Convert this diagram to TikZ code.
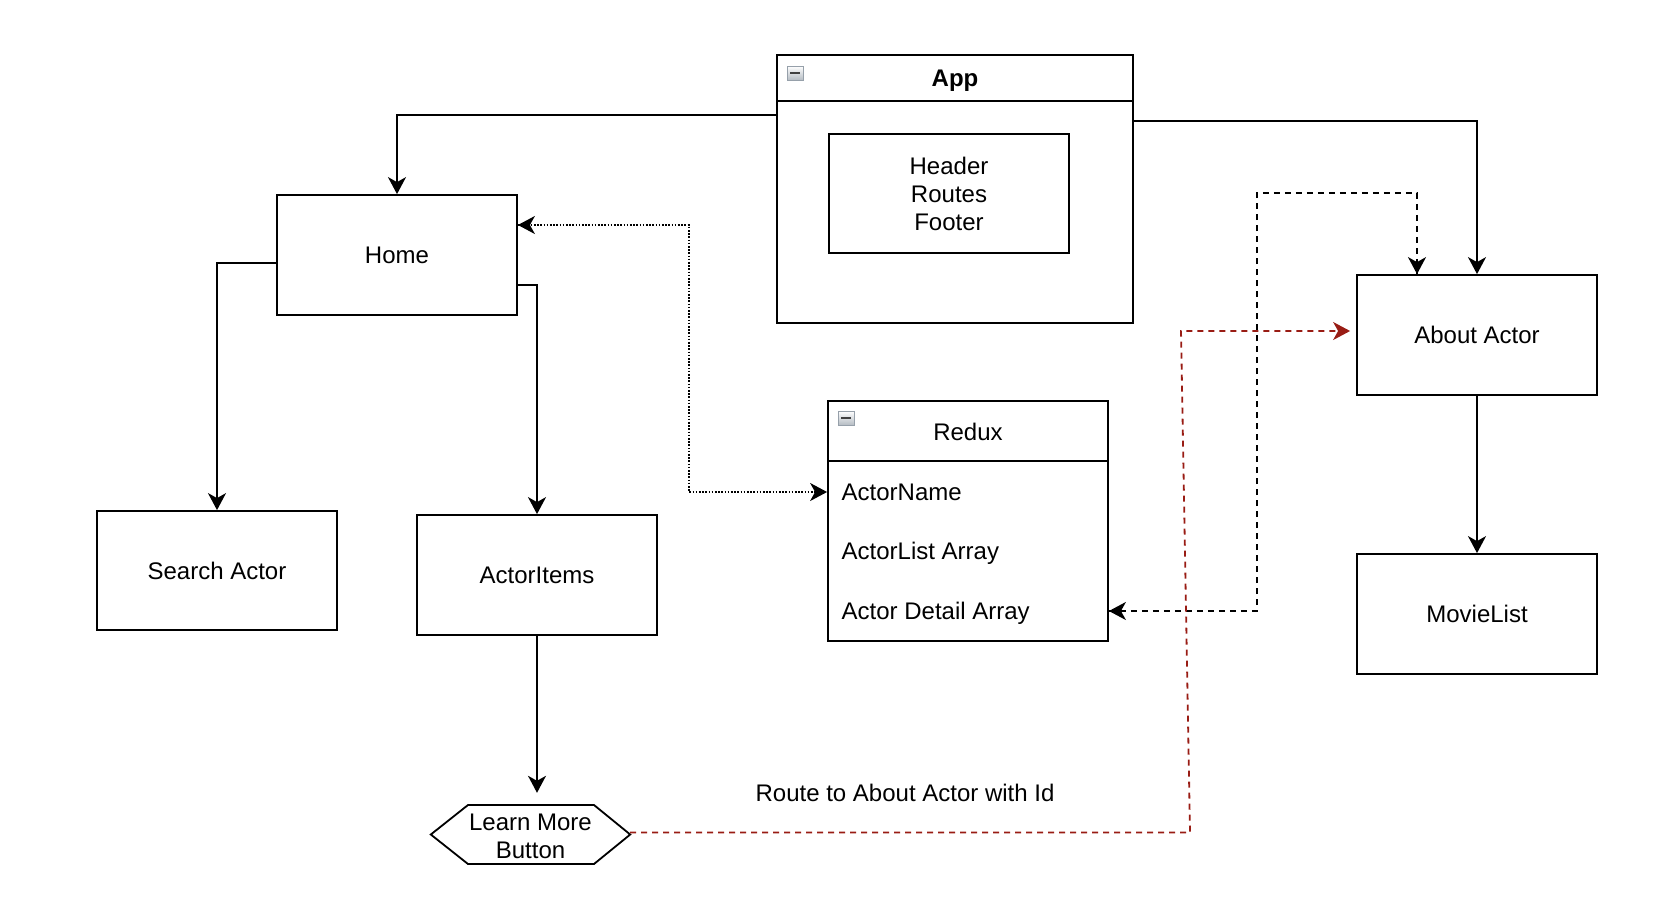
\documentclass[tikz,border=0pt]{standalone}
\usepackage{fontspec}
\setmainfont{Liberation Sans}
\usetikzlibrary{arrows.meta}
\definecolor{linkred}{RGB}{153,28,20}
\definecolor{icongray}{RGB}{150,160,170}
\tikzset{
  box/.style={draw, line width=1.8pt, minimum width=240pt, minimum height=120pt, inner sep=0pt,
    font=\fontsize{24}{28}\selectfont, align=center},
  txt/.style={inner sep=0pt, font=\fontsize{24}{28}\selectfont, align=center},
  tip/.style={-{Stealth[length=17pt,width=18pt,inset=5pt]}},
  conn/.style={line width=1.8pt, tip},
  dashconn/.style={line width=1.8pt, dash pattern=on 6pt off 5pt},
  dotconn/.style={line width=1.6pt, dash pattern=on 1.6pt off 1.6pt},
  ico/.style={draw=icongray, line width=0.8pt, top color=white, bottom color=icongray!70, minimum width=16pt, minimum height=14pt, inner sep=0pt}
}
\begin{document}
\begin{tikzpicture}[x=1pt, y=-1pt]
\useasboundingbox (0,0) rectangle (1656,916);

% App container
\node[box, minimum width=356pt, minimum height=268pt] (app) at (955,189) {};
\draw[line width=1.8pt] (app.west |- 0,101) -- (app.east |- 0,101);
\node[txt, font=\fontsize{24}{28}\selectfont\bfseries] (apptitle) at (955,81) {App};
\node[ico] (appicon) at (795,73) {};
\draw[line width=2pt, black!75] ([xshift=-5pt]appicon.center) -- ([xshift=5pt]appicon.center);
\node[box, minimum width=240pt, minimum height=119pt] (inner) at (949,193.5) {Header\\Routes\\Footer};

% Redux container
\node[box, minimum width=280pt, minimum height=240pt] (redux) at (968,521) {};
\draw[line width=1.8pt] (redux.west |- 0,461) -- (redux.east |- 0,461);
\node[txt] (reduxtitle) at (968,432) {Redux};
\node[ico] (reduxicon) at (846,418) {};
\draw[line width=2pt, black!75] ([xshift=-5pt]reduxicon.center) -- ([xshift=5pt]reduxicon.center);
\node[txt, anchor=west] (rname) at (841.5,492) {ActorName};
\node[txt, anchor=west] (rlist) at (841.5,553.5) {ActorList Array};
\node[txt, anchor=west] (rdetail) at (841.5,613.5) {Actor Detail Array};

% Boxes
\node[box] (home) at (397,255) {Home};
\node[box, minimum height=119pt] (search) at (217,570.5) {Search Actor};
\node[box] (items) at (537,575) {ActorItems};
\node[box] (about) at (1477,335) {About Actor};
\node[box] (movie) at (1477,614) {MovieList};

% Learn More hexagon
\node[txt, minimum width=199pt, minimum height=59pt] (learn) at (530.5,834.5) {};
\node[txt] (learntext) at (530.5,836.5) {Learn More\\Button};
\draw[line width=1.8pt] (learn.west) -- (468,805) -- (594,805) -- (learn.east) -- (594,864) -- (468,864) -- cycle;

% Label
\node[txt] (routelabel) at (905,793) {Route to About Actor with Id};

% Solid connectors
\draw[conn] (app.west |- 0,115) -| (home.north);
\draw[conn] (app.east |- 0,121) -| (about.north);
\draw[conn] (home.west |- 0,263) -| (search.north);
\draw[conn] (home.east |- 0,285) -| (items.north);
\draw[conn] (about.south) -- (movie.north);
\draw[conn, shorten >=12pt] (items.south) -- (items.south |- learn.north);

% Dotted Home <-> Redux
\coordinate (d1) at (689,225);
\draw[dotconn] (home.east |- d1) -- (d1) |- (redux.west |- rname);
\draw[line width=1.6pt, tip] ([xshift=2pt]home.east |- d1) -- (home.east |- d1);
\draw[line width=1.6pt, tip] ([xshift=-2pt]redux.west |- rname) -- (redux.west |- rname);

% Dashed Redux <-> About Actor
\coordinate (k1) at (1257,611);
\coordinate (k2) at (1257,193);
\coordinate (k3) at (1417,193);
\draw[dashconn] (redux.east |- k1) -- (k1) -- (k2) -- (k3) -- (k3 |- about.north);
\draw[line width=1.8pt, tip] ([xshift=2pt]redux.east |- k1) -- (redux.east |- k1);
\draw[line width=1.8pt, tip] ([yshift=2pt]k3 |- about.north) -- (k3 |- about.north);

% Red dashed Learn More -> About Actor
\coordinate (r0) at (630,832.5);
\coordinate (r1) at (1190,832.5);
\coordinate (r2) at (1181,331);
\draw[dashconn, draw=linkred] (r0) -- (r1) -- (r2) -- ([xshift=-8pt]about.west |- r2);
\draw[line width=1.8pt, draw=linkred, fill=linkred, -{Stealth[length=17pt,width=18pt,inset=5pt,color=linkred]}] ([xshift=-10pt]about.west |- r2) -- ([xshift=-6pt]about.west |- r2);

\end{tikzpicture}
\end{document}
